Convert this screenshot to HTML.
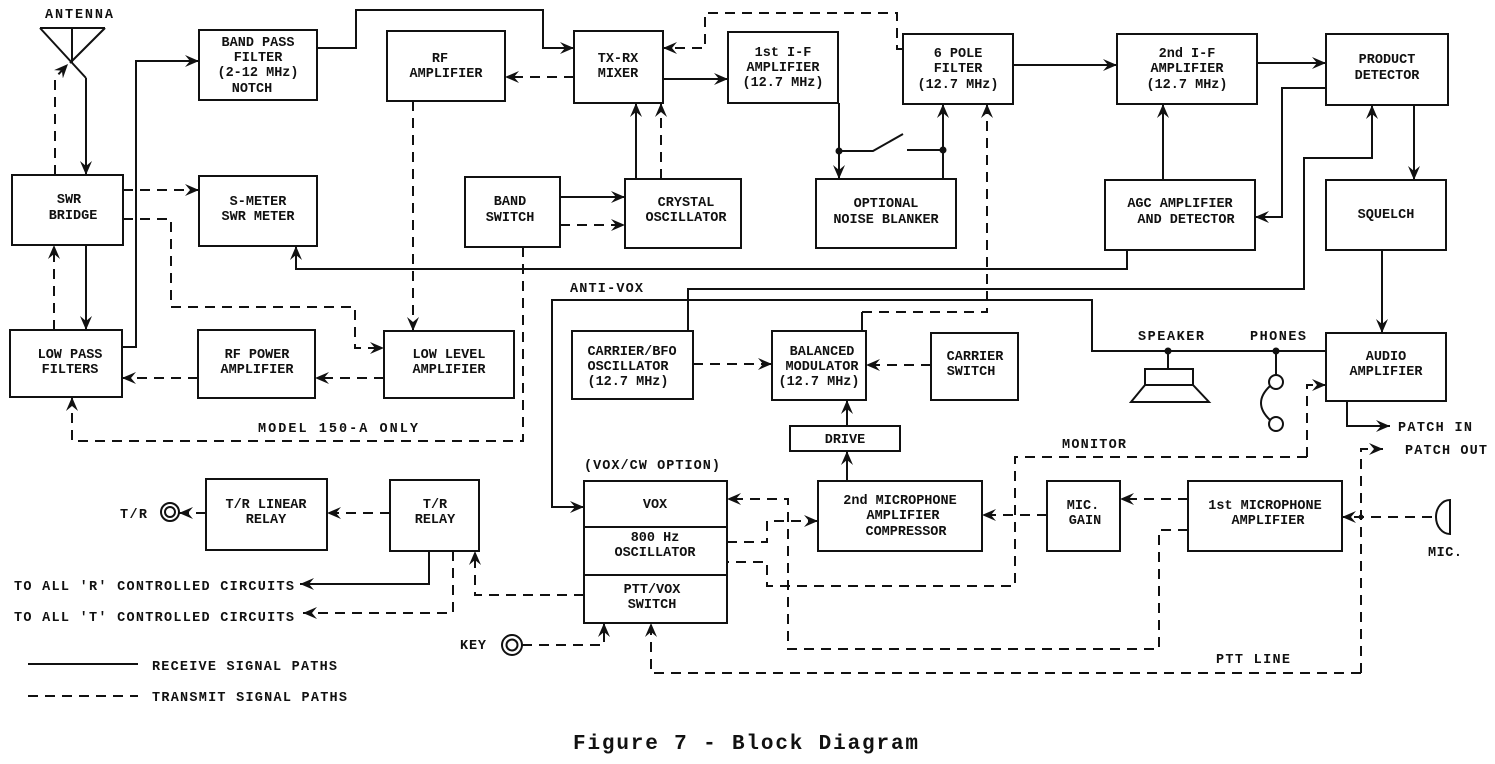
<!DOCTYPE html>
<html><head><meta charset="utf-8"><style>
html,body{margin:0;padding:0;background:#fff;}
svg{display:block;}
text{font-family:"Liberation Mono",monospace;font-size:13.5px;fill:#111;font-weight:bold;}
.b text,.c{text-anchor:middle;}
</style></head><body>
<svg width="1495" height="764" viewBox="0 0 1495 764" xmlns="http://www.w3.org/2000/svg">
<defs>
<marker id="a" markerUnits="userSpaceOnUse" markerWidth="16" markerHeight="14" refX="14" refY="7" orient="auto">
<path d="M0,1 L14,7 L0,13 L5,7 Z" fill="#111"/>
</marker>
</defs>
<g fill="none" stroke="#111" stroke-width="2">
<rect x="199" y="30" width="118" height="70"/>
<rect x="387" y="31" width="118" height="70"/>
<rect x="574" y="31" width="89" height="72"/>
<rect x="728" y="32" width="110" height="71"/>
<rect x="903" y="34" width="110" height="70"/>
<rect x="1117" y="34" width="140" height="70"/>
<rect x="1326" y="34" width="122" height="71"/>
<rect x="12" y="175" width="111" height="70"/>
<rect x="199" y="176" width="118" height="70"/>
<rect x="465" y="177" width="95" height="70"/>
<rect x="625" y="179" width="116" height="69"/>
<rect x="816" y="179" width="140" height="69"/>
<rect x="1105" y="180" width="150" height="70"/>
<rect x="1326" y="180" width="120" height="70"/>
<rect x="10" y="330" width="112" height="67"/>
<rect x="198" y="330" width="117" height="68"/>
<rect x="384" y="331" width="130" height="67"/>
<rect x="572" y="331" width="121" height="68"/>
<rect x="772" y="331" width="94" height="69"/>
<rect x="931" y="333" width="87" height="67"/>
<rect x="1326" y="333" width="120" height="68"/>
<rect x="790" y="426" width="110" height="25"/>
<rect x="206" y="479" width="121" height="71"/>
<rect x="390" y="480" width="89" height="71"/>
<rect x="584" y="481" width="143" height="142"/>
<line x1="584" y1="527" x2="727" y2="527"/>
<line x1="584" y1="575" x2="727" y2="575"/>
<rect x="818" y="481" width="164" height="70"/>
<rect x="1047" y="481" width="73" height="70"/>
<rect x="1188" y="481" width="154" height="70"/>

<line x1="40" y1="28" x2="105" y2="28"/>
<line x1="40" y1="28" x2="86" y2="78"/>
<line x1="105" y1="28" x2="70" y2="63"/>
<line x1="72" y1="28" x2="72" y2="63"/>
<polyline points="86,78 86,175" marker-end="url(#a)"/>
<polyline points="86,245 86,330" marker-end="url(#a)"/>
<polyline points="122,347 136,347 136,61 199,61" marker-end="url(#a)"/>
<polyline points="317,48 356,48 356,10 543,10 543,48 574,48" marker-end="url(#a)"/>
<polyline points="663,79 728,79" marker-end="url(#a)"/>
<polyline points="636,179 636,103" marker-end="url(#a)"/>
<polyline points="560,197 625,197" marker-end="url(#a)"/>
<polyline points="839,103 839,179" marker-end="url(#a)"/>
<circle cx="839" cy="151" r="2.5" fill="#111"/>
<polyline points="839,151 873,151 903,134"/>
<polyline points="907,150 943,150"/>
<circle cx="943" cy="150" r="2.5" fill="#111"/>
<polyline points="943,179 943,104" marker-end="url(#a)"/>
<polyline points="1013,65 1117,65" marker-end="url(#a)"/>
<polyline points="1257,63 1326,63" marker-end="url(#a)"/>
<polyline points="1326,88 1282,88 1282,217 1255,217" marker-end="url(#a)"/>
<polyline points="1163,180 1163,104" marker-end="url(#a)"/>
<polyline points="1414,105 1414,180" marker-end="url(#a)"/>
<polyline points="1382,250 1382,333" marker-end="url(#a)"/>
<polyline points="688,331 688,289 1304,289 1304,158 1372,158 1372,105" marker-end="url(#a)"/>
<polyline points="1127,250 1127,269 296,269 296,246" marker-end="url(#a)"/>
<polyline points="1326,351 1092,351 1092,300 552,300 552,507 584,507" marker-end="url(#a)"/>
<polyline points="862,331 862,312"/>
<polyline points="847,481 847,451" marker-end="url(#a)"/>
<polyline points="847,426 847,400" marker-end="url(#a)"/>
<polyline points="1347,401 1347,426 1390,426" marker-end="url(#a)"/>
<polyline points="429,551 429,584 300,584" marker-end="url(#a)"/>
<circle cx="1168" cy="351" r="2.5" fill="#111"/>
<line x1="1168" y1="351" x2="1168" y2="369"/>
<rect x="1145" y="369" width="48" height="16"/>
<polygon points="1145,385 1193,385 1209,402 1131,402"/>
<circle cx="1276" cy="351" r="2.5" fill="#111"/>
<line x1="1276" y1="351" x2="1276" y2="376"/>
<circle cx="1276" cy="382" r="7"/>
<circle cx="1276" cy="424" r="7"/>
<path d="M1270,386 Q1252,403 1270,420"/>
<circle cx="170" cy="512" r="9"/><circle cx="170" cy="512" r="5"/>
<circle cx="512" cy="645" r="10"/><circle cx="512" cy="645" r="5.5"/>
<path d="M1450,500 A14,17 0 0,0 1450,534 Z"/>
<line x1="28" y1="664" x2="138" y2="664"/>
</g>

<g fill="none" stroke="#111" stroke-width="2" stroke-dasharray="10 7">
<polyline points="55,175 55,78 68,64" marker-end="url(#a)"/>
<polyline points="54,330 54,245" marker-end="url(#a)"/>
<polyline points="574,77 505,77" marker-end="url(#a)"/>
<polyline points="903,49 897,49 897,13 705,13 705,48 663,48" marker-end="url(#a)"/>
<polyline points="661,179 661,103" marker-end="url(#a)"/>
<polyline points="560,225 625,225" marker-end="url(#a)"/>
<polyline points="862,312 987,312 987,104" marker-end="url(#a)"/>
<polyline points="123,190 199,190" marker-end="url(#a)"/>
<polyline points="123,219 171,219 171,307 355,307 355,348 384,348" marker-end="url(#a)"/>
<polyline points="413,101 413,331" marker-end="url(#a)"/>
<polyline points="384,378 315,378" marker-end="url(#a)"/>
<polyline points="198,378 122,378" marker-end="url(#a)"/>
<polyline points="523,247 523,441 72,441 72,397" marker-end="url(#a)"/>
<polyline points="693,364 772,364" marker-end="url(#a)"/>
<polyline points="931,365 866,365" marker-end="url(#a)"/>
<polyline points="1361,673 1361,449 1383,449" marker-end="url(#a)"/>
<polyline points="1307,457 1307,385 1326,385" marker-end="url(#a)"/>
<polyline points="1307,457 1015,457 1015,586 767,586 767,562 727,562"/>
<polyline points="1188,530 1159,530 1159,649 788,649 788,499 727,499" marker-end="url(#a)"/>
<polyline points="727,542 767,542 767,521 818,521" marker-end="url(#a)"/>
<polyline points="1047,515 982,515" marker-end="url(#a)"/>
<polyline points="1188,499 1120,499" marker-end="url(#a)"/>
<polyline points="1432,517 1342,517" marker-end="url(#a)"/>
<polyline points="1361,673 651,673 651,623" marker-end="url(#a)"/>
<polyline points="522,645 604,645 604,623" marker-end="url(#a)"/>
<polyline points="584,595 475,595 475,551" marker-end="url(#a)"/>
<polyline points="390,513 327,513" marker-end="url(#a)"/>
<polyline points="206,513 179,513" marker-end="url(#a)"/>
<polyline points="453,551 453,613 303,613" marker-end="url(#a)"/>
<line x1="28" y1="696" x2="138" y2="696"/>
</g>
<circle cx="1361" cy="517" r="2.5" fill="#111"/>

<g class="b">
<text x="258" y="46">BAND  PASS</text><text x="258" y="61">FILTER</text><text x="258" y="76">(2-12 MHz)</text><text x="252" y="92">NOTCH</text>
<text x="440" y="62">RF</text><text x="446" y="77">AMPLIFIER</text>
<text x="618" y="62">TX-RX</text><text x="618" y="77">MIXER</text>
<text x="783" y="56">1st I-F</text><text x="783" y="71">AMPLIFIER</text><text x="783" y="86">(12.7 MHz)</text>
<text x="958" y="57">6 POLE</text><text x="958" y="72">FILTER</text><text x="958" y="88">(12.7 MHz)</text>
<text x="1187" y="57">2nd I-F</text><text x="1187" y="72">AMPLIFIER</text><text x="1187" y="88">(12.7 MHz)</text>
<text x="1387" y="63">PRODUCT</text><text x="1387" y="79">DETECTOR</text>
<text x="69" y="203">SWR</text><text x="73" y="219">BRIDGE</text>
<text x="258" y="205">S-METER</text><text x="258" y="220">SWR METER</text>
<text x="510" y="205">BAND</text><text x="510" y="221">SWITCH</text>
<text x="686" y="206">CRYSTAL</text><text x="686" y="221">OSCILLATOR</text>
<text x="886" y="207">OPTIONAL</text><text x="886" y="223">NOISE  BLANKER</text>
<text x="1180" y="207">AGC AMPLIFIER</text><text x="1186" y="223">AND DETECTOR</text>
<text x="1386" y="218">SQUELCH</text>
<text x="70" y="358">LOW  PASS</text><text x="70" y="373">FILTERS</text>
<text x="257" y="358">RF  POWER</text><text x="257" y="373">AMPLIFIER</text>
<text x="449" y="358">LOW LEVEL</text><text x="449" y="373">AMPLIFIER</text>
<text x="632" y="355">CARRIER/BFO</text><text x="628" y="370">OSCILLATOR</text><text x="628" y="385">(12.7 MHz)</text>
<text x="822" y="355">BALANCED</text><text x="822" y="370">MODULATOR</text><text x="819" y="385">(12.7 MHz)</text>
<text x="975" y="360">CARRIER</text><text x="971" y="375">SWITCH</text>
<text x="1386" y="360">AUDIO</text><text x="1386" y="375">AMPLIFIER</text>
<text x="845" y="443">DRIVE</text>
<text x="266" y="508">T/R LINEAR</text><text x="266" y="523">RELAY</text>
<text x="435" y="508">T/R</text><text x="435" y="523">RELAY</text>
<text x="655" y="508">VOX</text>
<text x="655" y="541">800 Hz</text><text x="655" y="556">OSCILLATOR</text>
<text x="652" y="593">PTT/VOX</text><text x="652" y="608">SWITCH</text>
<text x="900" y="504">2nd MICROPHONE</text><text x="903" y="519">AMPLIFIER</text><text x="906" y="535">COMPRESSOR</text>
<text x="1083" y="509">MIC.</text><text x="1085" y="524">GAIN</text>
<text x="1265" y="509">1st MICROPHONE</text><text x="1268" y="524">AMPLIFIER</text>
</g>

<text x="45" y="18" textLength="68">ANTENNA</text>
<text x="258" y="432" textLength="160">MODEL 150-A ONLY</text>
<text x="570" y="292" textLength="73">ANTI-VOX</text>
<text x="584" y="469" textLength="136">(VOX/CW OPTION)</text>
<text x="1138" y="340" textLength="66">SPEAKER</text>
<text x="1250" y="340" textLength="56">PHONES</text>
<text x="1398" y="431" textLength="74">PATCH IN</text>
<text x="1405" y="454" textLength="82">PATCH OUT</text>
<text x="1062" y="448" textLength="64">MONITOR</text>
<text x="1428" y="556" textLength="34">MIC.</text>
<text x="1216" y="663" textLength="74">PTT LINE</text>
<text x="460" y="649" textLength="26">KEY</text>
<text x="120" y="518" textLength="27">T/R</text>
<text x="14" y="590" textLength="280">TO ALL 'R' CONTROLLED CIRCUITS</text>
<text x="14" y="621" textLength="280">TO ALL 'T' CONTROLLED CIRCUITS</text>
<text x="152" y="670" textLength="185">RECEIVE SIGNAL PATHS</text>
<text x="152" y="701" textLength="195">TRANSMIT SIGNAL PATHS</text>
<text x="573" y="749" textLength="345" style="font-size:21px;">Figure 7 - Block Diagram</text>
</svg>
</body></html>
